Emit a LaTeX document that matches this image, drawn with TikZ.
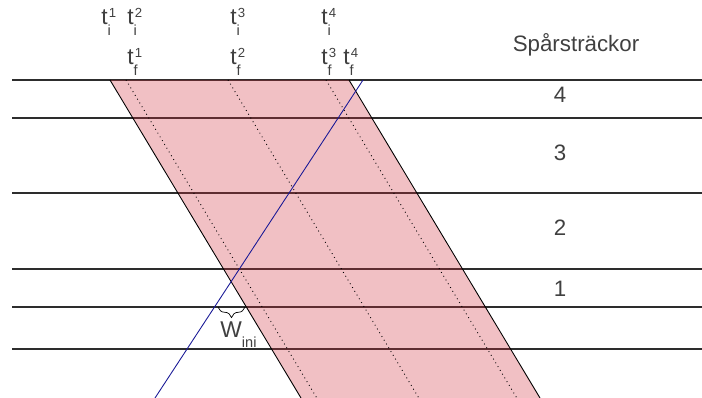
\documentclass[tikz,border=0pt]{standalone}
\usepackage{fontspec}
\setmainfont{Liberation Sans}
\usetikzlibrary{decorations.pathreplacing,positioning}
\definecolor{BandColor}{RGB}{210,45,60}
\definecolor{TrainColor}{RGB}{25,25,150}
\definecolor{LabelColor}{RGB}{64,64,64}
\definecolor{TrackColor}{RGB}{45,45,45}
\newcommand{\suppart}[1]{{\fontsize{7.5}{8}\selectfont #1}}
\newcommand{\subpart}[1]{{\fontsize{8.3}{9}\selectfont #1}}
\newcommand{\tlab}[2]{t\rlap{\raisebox{4.3pt}{\kern0.6pt\suppart{#1}}}\raisebox{-5.8pt}{\subpart{#2}}}
\tikzset{
  trackline/.style={draw=TrackColor, line width=0.6pt},
  bandfill/.style={fill=BandColor, fill opacity=0.3},
  bandedge/.style={draw=black, line width=0.5pt},
  bandmid/.style={draw=black, dotted, line width=0.5pt},
  trainline/.style={draw=TrainColor, line width=0.5pt},
  timelabel/.style={text=LabelColor, font=\fontsize{13}{15}\selectfont, inner sep=0pt, anchor=base west},
  sectionlabel/.style={text=LabelColor, font=\fontsize{12.7}{15}\selectfont, inner sep=0pt},
}

\begin{document}
\begin{tikzpicture}[x=0.02cm, y=-0.02cm]
  \useasboundingbox (0,0) rectangle (702,398);
  % track sections
  \foreach \y in {80,118,193,269,307,349} {
    \coordinate (trackL\y) at (12,\y);
    \coordinate (trackR\y) at (702,\y);
    \draw[trackline] (trackL\y) -- (trackR\y);
  }
  % occupied band
  \coordinate (bandTL) at (110,80);
  \coordinate (bandTR) at (349,80);
  \coordinate (bandBR) at (540,398);
  \coordinate (bandBL) at (301,398);
  \fill[bandfill] (bandTL) -- (bandTR) -- (bandBR) -- (bandBL) -- cycle;
  \draw[bandedge] (bandTL) -- (bandBL);
  \draw[bandedge] (bandTR) -- (bandBR);
  \foreach \k/\x in {1/126,2/228,3/326} {
    \coordinate (midT\k) at (\x,80);
    \coordinate (midB\k) at (\x+190.8,398);
    \draw[bandmid] (midT\k) -- (midB\k);
  }
  % train path
  \coordinate (trainT) at (363,80);
  \coordinate (trainB) at (155,398);
  \draw[trainline] (trainB) -- (trainT);

  \coordinate (winiL) at (218,307);
  \coordinate (winiR) at (245,307);
  \draw[decorate, decoration={brace, amplitude=6pt, mirror}] (winiL) -- (winiR);
  \node[timelabel] (wini) at (220,337) {W\raisebox{-5.8pt}{\subpart{ini}}};

  \foreach \n/\x/\s in {ti1/101/1,ti2/127/2,ti3/230/3,ti4/321/4} {
    \node[timelabel] (\n) at (\x,25) {\tlab{\s}{i}};
  }
  \foreach \n/\x/\s in {tf1/127/1,tf2/230/2,tf3/321/3,tf4/343/4} {
    \node[timelabel] (\n) at (\x,65) {\tlab{\s}{f}};
  }

  \node[sectionlabel, anchor=base] (title) at (576,52) {Spårsträckor};
  \foreach \n/\y in {4/95,3/153,2/228,1/289} {
    \node[sectionlabel] (sec\n) at (560,\y) {\n};
  }
\end{tikzpicture}
\end{document}
